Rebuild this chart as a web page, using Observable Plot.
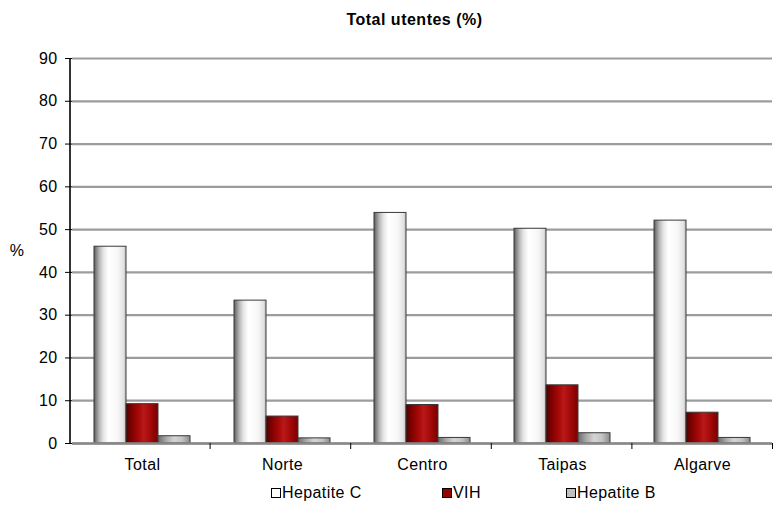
<!DOCTYPE html>
<html>
<head>
<meta charset="utf-8">
<script src="https://cdn.jsdelivr.net/npm/d3@7"></script>
<script src="https://cdn.jsdelivr.net/npm/@observablehq/plot@0.6"></script>
<style>
  body { margin: 0; background: #fff; font-family: "Liberation Sans", Arial, sans-serif; }
  #wrap { width: 773px; height: 506px; position: relative; overflow: hidden; }
  #title { height: 40px; line-height: 40px; text-align: center; font-weight: bold; font-size: 16px;
           letter-spacing: 0.5px; padding-left: 56px; box-sizing: border-box; color: #000; }
  #chart svg { display: block; }
  #legend { position: relative; height: 26px; font-size: 16px; letter-spacing: 0.4px; color: #000; }
  .item { position: absolute; top: 0; line-height: 26px; white-space: nowrap; }
  .sw { display: inline-block; width: 8px; height: 8px; border: 1px solid #000; margin-right: 1px; vertical-align: 0px; }
</style>
</head>
<body>
<div id="wrap">
  <div id="title">Total utentes (%)</div>
  <div id="chart"></div>
  <div id="legend"></div>
</div>
<script>
const categories = ["Total", "Norte", "Centro", "Taipas", "Algarve"];
const series = ["Hepatite C", "VIH", "Hepatite B"];
const hepatiteC = [46.0, 33.4, 53.9, 50.2, 52.1];
const vih = [9.2, 6.3, 9.0, 13.6, 7.2];
const hepatiteB = [1.7, 1.2, 1.3, 2.4, 1.3];
const yTicks = [0, 10, 20, 30, 40, 50, 60, 70, 80, 90];

const seriesValues = [hepatiteC, vih, hepatiteB];
const rows = [];
categories.forEach((c, i) => {
  series.forEach((s, j) => rows.push({ cat: c, series: s, value: seriesValues[j][i] }));
});

const gradIds = ["gHC", "gVIH", "gHB"];
const swatch = ["#ffffff", "#990000", "#c0c0c0"];

const plot = Plot.plot({
  width: 773,
  height: 440,
  marginTop: 18,
  marginBottom: 37,
  marginLeft: 70,
  marginRight: 0,
  style: { fontFamily: "'Liberation Sans', Arial, sans-serif", fontSize: "16px", color: "#000", letterSpacing: "0.4px", background: "#fff" },
  fx: { domain: categories, padding: 0, label: null },
  x: { domain: series, paddingInner: 0, paddingOuter: 0.63, axis: null },
  y: { domain: [0, 90], label: null },
  color: { domain: series, range: gradIds.map(id => `url(#${id})`) },
  marks: [
    Plot.gridY(yTicks, { stroke: "#9c9c9c", strokeOpacity: 1, strokeWidth: 2.2 }),
    Plot.barY(rows, { fx: "cat", x: "series", y: "value", fill: "series", stroke: "#3a3a3a", strokeWidth: 1 }),
    Plot.ruleY([0], { stroke: "#888", strokeWidth: 2.5 }),
    Plot.axisY(yTicks, { tickSize: 7, tickPadding: 8, label: null, fontSize: 16 }),
    Plot.axisFx({ anchor: "bottom", tickSize: 0, tickPadding: 15, label: null, fontSize: 16 })
  ]
});
document.getElementById("chart").appendChild(plot);

// gradients
const svg = d3.select(plot);
const defs = svg.insert("defs", ":first-child");
function grad(id, stops) {
  const g = defs.append("linearGradient").attr("id", id).attr("x1", "0").attr("x2", "1").attr("y1", "0").attr("y2", "0");
  stops.forEach(([o, c]) => g.append("stop").attr("offset", o).attr("stop-color", c));
}
grad("gHC", [[0, "#5a5a5a"], [0.08, "#8a8a8a"], [0.18, "#bdbdbd"], [0.3, "#e6e6e6"], [0.45, "#ffffff"], [0.75, "#f7f7f7"], [0.92, "#e2e2e2"], [1, "#bcbcbc"]]);
grad("gVIH", [[0, "#4a0000"], [0.15, "#7a0000"], [0.4, "#a80808"], [0.55, "#b81818"], [0.75, "#a50a0a"], [1, "#7a0000"]]);
grad("gHB", [[0, "#6a6a6a"], [0.25, "#a8a8a8"], [0.5, "#d4d4d4"], [0.75, "#c4c4c4"], [1, "#8a8a8a"]]);

// axis lines and category boundary ticks from the scales
const fx = plot.scale("fx");
const y = plot.scale("y");
const fxs = d3.scaleBand().domain(fx.domain).range(fx.range).padding(0);
const x0 = fxs(categories[0]);
svg.append("line").attr("x1", x0).attr("x2", x0).attr("y1", y.apply(0) + 1).attr("y2", y.apply(90))
  .attr("stroke", "#000").attr("stroke-width", 1.6);
categories.forEach(c => {
  const xb = fxs(c) + fxs.bandwidth();
  svg.append("line").attr("x1", xb - 0.5).attr("x2", xb - 0.5).attr("y1", y.apply(0)).attr("y2", y.apply(0) + 6)
    .attr("stroke", "#000").attr("stroke-width", 1);
});
svg.append("text").attr("x", x0 - 53).attr("y", y.apply(45)).attr("text-anchor", "middle")
  .attr("dy", "0.35em").attr("font-size", 16).attr("fill", "#000").text("%");

// legend
const legendLeft = [271, 442, 566];
const legend = document.getElementById("legend");
series.forEach((s, i) => {
  const it = document.createElement("div");
  it.className = "item";
  it.style.left = legendLeft[i] + "px";
  it.innerHTML = `<span class="sw" style="background:${swatch[i]}"></span>${s}`;
  legend.appendChild(it);
});
</script>
</body>
</html>
